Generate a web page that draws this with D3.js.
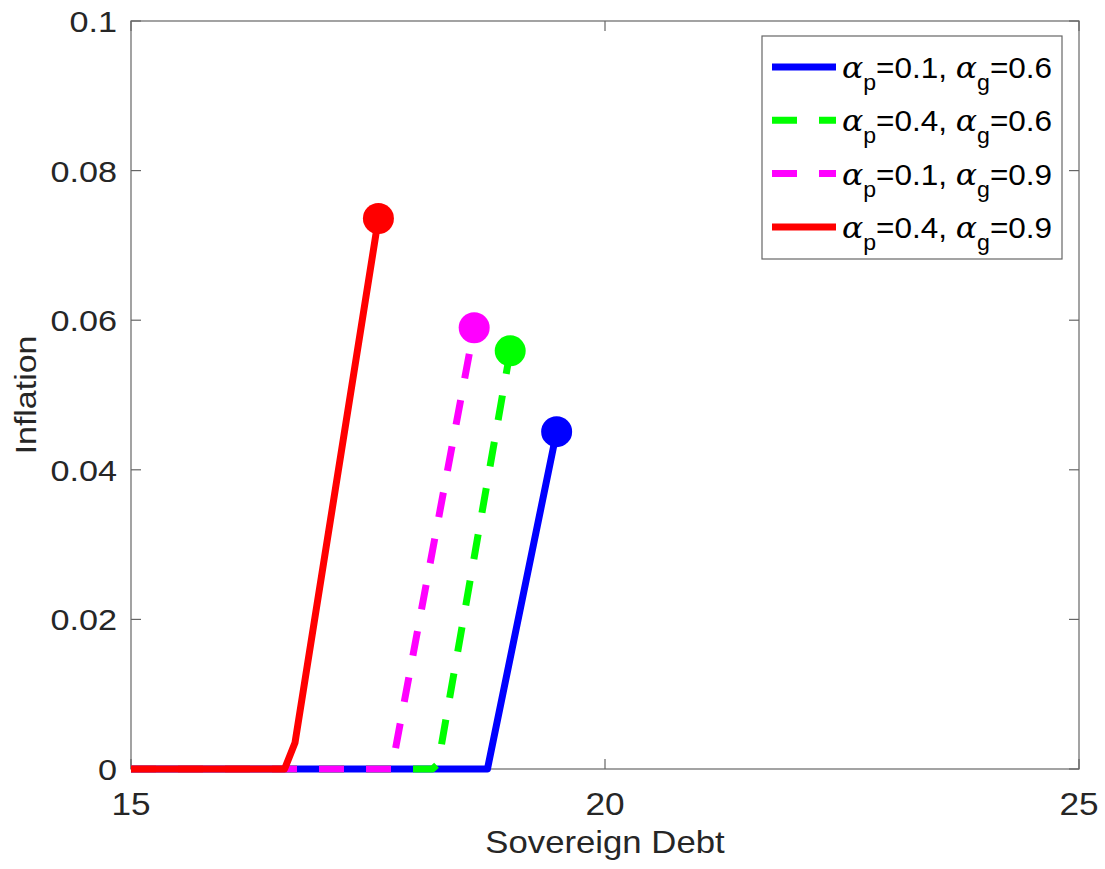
<!DOCTYPE html>
<html lang="en">
  <head>
    <meta charset="utf-8">
    <title>Inflation vs Sovereign Debt</title>
    <script type="text/javascript" src="https://cdn.jsdelivr.net/npm/d3@7/dist/d3.min.js"></script>
    <style>
    body { margin: 0; background: #fff; }
    text { font-family: "Liberation Sans", Arial, sans-serif; fill: #262626; }
    </style>
  </head>
  <body>
    <script type="text/javascript">
      // axis ticks
      var xTicks = [15, 20, 25];
      var yTicks = [0, 0.02, 0.04, 0.06, 0.08, 0.1];

      // series
      var seriesNames = ["b1", "g1", "m1", "r1"];
      var alphaP = ["0.1", "0.4", "0.1", "0.4"];
      var alphaG = ["0.6", "0.6", "0.9", "0.9"];
      var blueX = [15, 18.76, 19.49];
      var blueY = [0, 0, 0.0451];
      var greenX = [15, 18.18, 18.24, 19.00];
      var greenY = [0, 0, 0.0007, 0.0559];
      var magentaX = [15, 17.75, 18.62];
      var magentaY = [0, 0, 0.0590];
      var redX = [15, 16.62, 16.73, 17.61];
      var redY = [0, 0, 0.0035, 0.0736];

      var colors = ["#0000ff", "#00ff00", "#ff00ff", "#ff0000"];
      var dashes = [null, "25,22", "25,22", null];

      var series = [
        {x: blueX, y: blueY},
        {x: greenX, y: greenY},
        {x: magentaX, y: magentaY},
        {x: redX, y: redY}
      ];

      var w = 1105, h = 869;
      var mLeft = 131, mRight = 1079, mTop = 21, mBottom = 769;
      var axisCol = "#666";

      var svg = d3.select("body").append("svg")
                  .attr("width", w)
                  .attr("height", h);

      var x = d3.scaleLinear().domain([15, 25]).range([mLeft, mRight]);
      var y = d3.scaleLinear().domain([0, 0.1]).range([mBottom, mTop]);

      // text helper: the reference font runs a bit wider than Liberation Sans
      function label(px, py, str, size, anchor, sx, rot) {
        return svg.append("text")
                  .text(str)
                  .attr("transform", "translate(" + px + "," + py + ")" +
                        (rot ? " rotate(" + rot + ")" : "") +
                        " scale(" + sx + ",1)")
                  .attr("font-size", size + "px")
                  .attr("text-anchor", anchor);
      }

      // frame
      svg.append("rect")
         .attr("x", mLeft).attr("y", mTop)
         .attr("width", mRight - mLeft).attr("height", mBottom - mTop)
         .attr("fill", "none")
         .attr("stroke", axisCol)
         .attr("stroke-width", 1.2);

      // inward ticks on all sides
      var tl = 10;
      xTicks.forEach(function(t) {
        svg.append("line").attr("x1", x(t)).attr("x2", x(t))
           .attr("y1", mBottom).attr("y2", mBottom - tl)
           .attr("stroke", axisCol).attr("stroke-width", 1.2);
        svg.append("line").attr("x1", x(t)).attr("x2", x(t))
           .attr("y1", mTop).attr("y2", mTop + tl)
           .attr("stroke", axisCol).attr("stroke-width", 1.2);
      });
      yTicks.forEach(function(t) {
        svg.append("line").attr("x1", mLeft).attr("x2", mLeft + tl)
           .attr("y1", y(t)).attr("y2", y(t))
           .attr("stroke", axisCol).attr("stroke-width", 1.2);
        svg.append("line").attr("x1", mRight).attr("x2", mRight - tl)
           .attr("y1", y(t)).attr("y2", y(t))
           .attr("stroke", axisCol).attr("stroke-width", 1.2);
      });

      // tick labels
      xTicks.forEach(function(t) {
        label(x(t), 815, t, 32, "middle", 1.1);
      });
      yTicks.forEach(function(t) {
        label(117, y(t) + 11, d3.format("~g")(t), 30, "end", 1.14);
      });

      // axis labels
      label((mLeft + mRight) / 2, 853, "Sovereign Debt", 31, "middle", 1.12);
      label(36, (mTop + mBottom) / 2, "Inflation", 30, "middle", 1.13, -90);

      // lines
      var line = d3.line()
                   .x(function(d) { return x(d[0]); })
                   .y(function(d) { return y(d[1]); });

      series.forEach(function(s, i) {
        var pts = s.x.map(function(v, j) { return [v, s.y[j]]; });
        svg.append("path")
           .attr("d", line(pts))
           .attr("fill", "none")
           .attr("stroke", colors[i])
           .attr("stroke-width", 7)
           .attr("stroke-linejoin", "round")
           .attr("stroke-dasharray", dashes[i]);
        var last = pts[pts.length - 1];
        svg.append("circle")
           .attr("cx", x(last[0]))
           .attr("cy", y(last[1]))
           .attr("r", 15.5)
           .attr("fill", colors[i]);
      });

      // legend
      var lg = svg.append("g");
      lg.append("rect")
        .attr("x", 762).attr("y", 36)
        .attr("width", 300).attr("height", 223)
        .attr("fill", "#fff")
        .attr("stroke", axisCol)
        .attr("stroke-width", 1.2);

      seriesNames.forEach(function(n, i) {
        var cy = 67 + i * 53.3;
        lg.append("line")
          .attr("x1", 772).attr("x2", 836)
          .attr("y1", cy).attr("y2", cy)
          .attr("stroke", colors[i])
          .attr("stroke-width", 7)
          .attr("stroke-dasharray", dashes[i]);
        var t = lg.append("text")
                  .attr("transform", "translate(842," + (cy + 11) + ") scale(1.05,1)")
                  .attr("font-size", "30px");
        t.append("tspan").text("\u03b1")
         .attr("font-family", "'DejaVu Serif', serif")
         .attr("font-style", "italic")
         .style("fill", "#000");
        t.append("tspan").text("p").attr("font-size", "22px").attr("dy", 12).style("fill", "#000");
        t.append("tspan").text("=" + alphaP[i] + ", ").attr("dy", -12).style("fill", "#000");
        t.append("tspan").text("\u03b1")
         .attr("font-family", "'DejaVu Serif', serif")
         .attr("font-style", "italic")
         .style("fill", "#000");
        t.append("tspan").text("g").attr("font-size", "22px").attr("dy", 12).style("fill", "#000");
        t.append("tspan").text("=" + alphaG[i]).attr("dy", -12).style("fill", "#000");
      });
    </script>
  </body>
</html>
